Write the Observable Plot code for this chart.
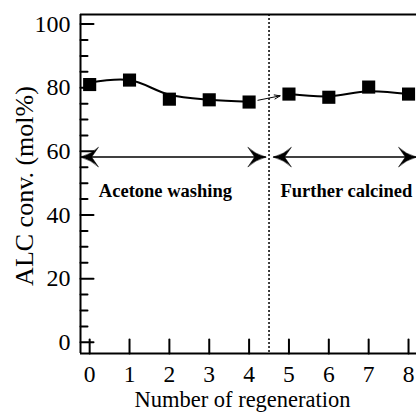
<!DOCTYPE html>
<html>
<head>
<meta charset="utf-8">
<script src="https://cdn.jsdelivr.net/npm/d3@7"></script>
<script src="https://cdn.jsdelivr.net/npm/@observablehq/plot@0.6"></script>
<style>
  html, body { margin: 0; padding: 0; background: #fff; }
  #chart svg { display: block; }
</style>
</head>
<body>
<div id="chart"></div>
<script>
// Alcohol conversion over successive catalyst regenerations
const regeneration = [0, 1, 2, 3, 4, 5, 6, 7, 8];
const conversion = [81, 82.4, 76.4, 76.2, 75.5, 78, 77, 80.2, 78];

// smoothed trend lines for the two treatment stages
const trendWashX = [0, 1, 2, 3, 4];
const trendWashY = [81.6, 82.4, 77.8, 76.2, 75.6];
const trendCalcX = [5, 6, 7, 8];
const trendCalcY = [78, 77.3, 78.9, 78];

// stage annotations
const stageLabels = ["Acetone washing", "Further calcined"];
const stageLabelX = [1.9, 6.44];
const stageLabelY = [47.5, 47.5];
const stageStart = [-0.23, 4.61];
const stageEnd = [4.42, 8.2];
const stageArrowY = [58.2, 58.2];
const boundaryX = [4.5];

// axes
const xTicks = [0, 1, 2, 3, 4, 5, 6, 7, 8];
const yTicks = [0, 20, 40, 60, 80, 100];
const yMinorTicks = [5, 10, 15, 25, 30, 35, 45, 50, 55, 65, 70, 75, 85, 90, 95];
const xDomain = [-0.23, 8.2];
const yDomain = [-3.5, 103];
const xTitle = "Number of regeneration";
const yTitle = "ALC conv. (mol%)";

const stages = stageLabels.map((label, i) => ({
  label, lx: stageLabelX[i], ly: stageLabelY[i],
  x1: stageStart[i], x2: stageEnd[i], y: stageArrowY[i]
}));
const points = regeneration.map((r, i) => ({r, c: conversion[i]}));
const trendWash = trendWashX.map((r, i) => ({r, c: trendWashY[i]}));
const trendCalc = trendCalcX.map((r, i) => ({r, c: trendCalcY[i]}));

// straight inward tick
const tickShape = {
  draw(context, l) {
    context.moveTo(0, 0);
    context.lineTo(0, -l);
  }
};

// filled barbed arrowhead, tip at the end of the vector
const barbedHead = {
  draw(context, l) {
    const w = l * 0.55, n = l * 0.38;
    context.moveTo(0, -l);
    context.quadraticCurveTo(w * 0.3, -l * 0.4, w, 0);
    context.lineTo(0, -n);
    context.lineTo(-w, 0);
    context.quadraticCurveTo(-w * 0.3, -l * 0.4, 0, -l);
    context.closePath();
  }
};

const heads = [
  ...stages.map(s => ({x: s.x1, y: s.y, rot: 270})),
  ...stages.map(s => ({x: s.x2, y: s.y, rot: 90}))
];

const chart = Plot.plot({
  width: 416,
  height: 412,
  marginLeft: 80,
  marginRight: 0,
  marginTop: 14,
  marginBottom: 59,
  style: {fontFamily: "'Liberation Serif', 'Times New Roman', serif", color: "black", background: "white"},
  x: {domain: xDomain},
  y: {domain: yDomain},
  marks: [
    // frame: left, bottom, top
    Plot.ruleX([xDomain[0]], {strokeWidth: 2}),
    Plot.ruleY([yDomain[0], yDomain[1]], {strokeWidth: 2}),

    // inward ticks
    Plot.vector(yTicks, {y: d => d, frameAnchor: "left", length: 13, rotate: 90, anchor: "start", shape: tickShape, strokeWidth: 2}),
    Plot.vector(yMinorTicks, {y: d => d, frameAnchor: "left", length: 7, rotate: 90, anchor: "start", shape: tickShape, strokeWidth: 2}),
    Plot.vector(xTicks, {x: d => d, frameAnchor: "bottom", length: 14, rotate: 0, anchor: "start", shape: tickShape, strokeWidth: 2}),

    // tick labels
    Plot.axisY(yTicks, {anchor: "left", tickSize: 0, tickPadding: 10, fontSize: 24, label: null}),
    Plot.axisX(xTicks, {anchor: "bottom", tickSize: 0, tickPadding: 12, fontSize: 23.5, label: null}),

    // axis titles
    Plot.text([yTitle], {frameAnchor: "left", dx: -56, dy: 2, rotate: -90, fontSize: 26, textAnchor: "middle", lineAnchor: "middle"}),
    Plot.text([xTitle], {frameAnchor: "bottom", dx: -6, dy: 46.5, fontSize: 22.5, textAnchor: "middle", lineAnchor: "middle"}),

    // stage boundary
    Plot.ruleX(boundaryX, {strokeDasharray: "2,2", strokeWidth: 1.5}),

    // stage span arrows
    Plot.link(stages, {x1: "x1", x2: "x2", y1: "y", y2: "y", strokeWidth: 1.5}),
    Plot.vector(heads, {x: "x", y: "y", rotate: "rot", length: 18, anchor: "end", shape: barbedHead, fill: "black", stroke: "black", strokeWidth: 0.5}),
    Plot.text(stages, {x: "lx", y: "ly", text: "label", fontSize: 18.5, fontWeight: "bold", lineAnchor: "middle"}),

    // trend lines
    Plot.line(trendWash, {x: "r", y: "c", curve: "catmull-rom", strokeWidth: 2}),
    Plot.line(trendCalc, {x: "r", y: "c", curve: "catmull-rom", strokeWidth: 2}),

    // transition arrow between stages
    Plot.arrow([[4, 5]], {
      x1: d => regeneration[d[0]], y1: d => conversion[d[0]],
      x2: d => regeneration[d[1]], y2: d => conversion[d[1]],
      insetStart: 9, insetEnd: 9, headLength: 9, headAngle: 40, strokeWidth: 1
    }),

    // measured conversions
    Plot.dot(points, {x: "r", y: "c", symbol: "square", r: 7.4, fill: "black", stroke: null})
  ]
});

document.getElementById("chart").appendChild(chart);
</script>
</body>
</html>
